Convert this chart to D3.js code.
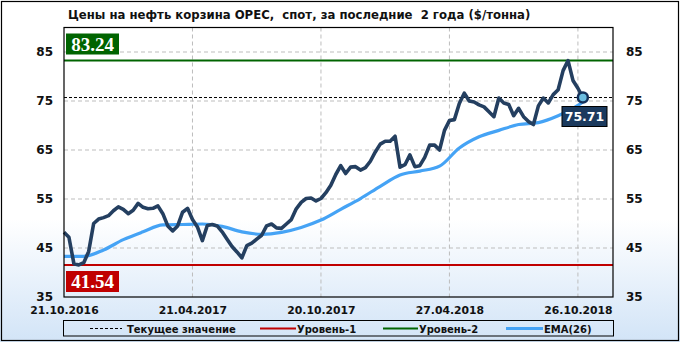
<!DOCTYPE html>
<html><head><meta charset="utf-8">
<script src="https://cdn.jsdelivr.net/npm/d3@7/dist/d3.min.js"></script>
<style>html,body{margin:0;padding:0;background:#fff;}svg{display:block;}</style>
</head><body>
<svg id="chart" width="680" height="342"></svg>
<script>
// ---- data ----
const title = "Цены на нефть корзина OPEC,  спот, за последние  2 года ($/тонна)";
const prices = [48.2,47.2,41.8,41.54,42.0,44.3,50.0,50.9,51.2,51.6,52.6,53.4,52.9,52.0,52.7,54.1,53.3,53.0,53.1,53.6,
  52.0,49.5,48.5,49.5,52.3,53.1,50.8,49.3,46.5,49.6,49.8,49.5,48.3,46.8,45.3,44.2,43.0,45.5,46.0,46.8,
  47.6,49.5,49.9,49.1,49.0,49.9,50.8,53.0,54.3,55.1,55.2,54.6,55.1,56.3,57.8,60.0,61.8,60.2,61.5,61.6,
  60.9,61.4,62.7,64.6,66.2,66.8,66.8,67.8,61.5,62.0,64.0,61.6,61.8,63.5,66.0,66.0,65.0,69.0,71.0,71.2,
  74.5,76.6,75.0,74.8,74.2,73.8,72.8,71.8,75.6,74.6,74.3,72.0,73.5,71.8,70.8,70.2,74.0,75.6,74.6,76.3,
  77.3,81.2,83.24,79.2,77.6,75.71];
const emaIndex = [0,4,8,12,16,20,24,28,32,36,40,44,48,52,56,60,64,68,72,76,80,84,88,92,96,100,104,105];
const emaValues = [43.3,43.3,44.6,46.7,48.3,49.7,49.8,49.9,49.4,48.3,47.8,48.2,49.2,50.7,52.9,55.1,57.6,59.9,60.7,61.7,65.4,67.7,69.0,70.2,70.6,72.0,74.1,74.8];
const level1 = 41.54;
const level2 = 83.24;
const currentValue = 75.71;
const xTickIndex = [0,26,52,78,104];
const xTickLabels = ["21.10.2016","21.04.2017","20.10.2017","27.04.2018","26.10.2018"];
const yTicks = [35,45,55,65,75,85];
const legendLabels = ["Текущее значение","Уровень-1","Уровень-2","EMA(26)"];

// ---- layout ----
const W = 680, H = 342;
const L = 64, R = 613, T = 27.5, B = 297;
const svg = d3.select("#chart");
const font = "'DejaVu Sans', Verdana, sans-serif";

const defs = svg.append("defs");
const grad = defs.append("linearGradient").attr("id","bg").attr("x1",0).attr("y1",0).attr("x2",0).attr("y2",1);
grad.append("stop").attr("offset","0%").attr("stop-color","#ffffff");
grad.append("stop").attr("offset","64%").attr("stop-color","#ffffff");
grad.append("stop").attr("offset","100%").attr("stop-color","#d2e4f7");

svg.append("rect").attr("x",0).attr("y",0).attr("width",W).attr("height",H).attr("fill","url(#bg)");
svg.append("rect").attr("x",1.5).attr("y",1.5).attr("width",W-3).attr("height",H-3)
  .attr("fill","none").attr("stroke","#000").attr("stroke-width",1.2);

const x = d3.scaleLinear().domain([0,111.1]).range([L,R]);
const y = d3.scaleLinear().domain([35,90]).range([B,T]);

// title
svg.append("text").attr("x",68).attr("y",19).attr("font-family",font).attr("font-weight","bold")
  .attr("font-size",11.7).attr("fill","#111").style("white-space","pre").text(title);

// grid
const grid = svg.append("g");
grid.selectAll("line.h").data(yTicks.filter(v=>v>35)).join("line")
  .attr("x1",L).attr("x2",R).attr("y1",d=>y(d)).attr("y2",d=>y(d))
  .attr("stroke","#bdbdbd").attr("stroke-dasharray","4,3").attr("stroke-width",1);
grid.selectAll("line.v").data(xTickIndex.slice(1)).join("line")
  .attr("x1",d=>x(d)).attr("x2",d=>x(d)).attr("y1",T).attr("y2",B)
  .attr("stroke","#bdbdbd").attr("stroke-dasharray","4,3").attr("stroke-width",1);

// axes
const yAxisL = d3.axisLeft(y).tickValues(yTicks).tickSize(0).tickPadding(11);
const gL = svg.append("g").attr("transform",`translate(${L},0)`).call(yAxisL);
const yAxisR = d3.axisRight(y).tickValues(yTicks).tickSize(0).tickPadding(13);
const gR = svg.append("g").attr("transform",`translate(${R},0)`).call(yAxisR);
const xAxis = d3.axisBottom(x).tickValues(xTickIndex).tickFormat((d,i)=>xTickLabels[i]).tickSize(0).tickPadding(9);
const gX = svg.append("g").attr("transform",`translate(0,${B})`).call(xAxis);
[gL,gR,gX].forEach(g=>{
  g.select(".domain").remove();
  g.selectAll("text").attr("font-family",font).attr("font-weight","bold").attr("fill","#111");
});
gL.selectAll("text").attr("font-size",12);
gR.selectAll("text").attr("font-size",12);
gX.selectAll("text").attr("font-size",10.8);

// level lines
svg.append("line").attr("x1",L).attr("x2",R).attr("y1",y(level1)).attr("y2",y(level1))
  .attr("stroke","#c00000").attr("stroke-width",2);
svg.append("line").attr("x1",L).attr("x2",R).attr("y1",y(level2)).attr("y2",y(level2))
  .attr("stroke","#006400").attr("stroke-width",2);
svg.append("line").attr("x1",L).attr("x2",R).attr("y1",y(currentValue)).attr("y2",y(currentValue))
  .attr("stroke","#000").attr("stroke-width",1).attr("stroke-dasharray","3,2");

// EMA
const emaData = emaIndex.map((d,i)=>[d,emaValues[i]]);
svg.append("path").datum(emaData)
  .attr("d",d3.line().x(d=>x(d[0])).y(d=>y(d[1])).curve(d3.curveMonotoneX))
  .attr("fill","none").attr("stroke","#45a3f5").attr("stroke-width",3.2).attr("stroke-linejoin","round");

// price
svg.append("path").datum(prices)
  .attr("d",d3.line().x((d,i)=>x(i)).y(d=>y(d)))
  .attr("fill","none").attr("stroke","#243f60").attr("stroke-width",3.6).attr("stroke-linejoin","round");

// frame
svg.append("rect").attr("x",L).attr("y",T).attr("width",R-L).attr("height",B-T)
  .attr("fill","none").attr("stroke","#000").attr("stroke-width",1.2);

// level labels
function levelLabel(val, yTop, fill){
  svg.append("rect").attr("x",66).attr("y",yTop).attr("width",53).attr("height",21).attr("fill",fill);
  svg.append("text").attr("x",92.5).attr("y",yTop+17).attr("text-anchor","middle")
    .attr("font-family","'Liberation Serif','Times New Roman',serif").attr("font-weight","bold")
    .attr("font-size",19).attr("fill","#fff").text(val.toFixed(2));
}
levelLabel(level2, 33.5, "#006400");
levelLabel(level1, 271, "#c00000");

// current point
const lastI = prices.length-1;
svg.append("circle").attr("cx",x(lastI)).attr("cy",y(prices[lastI])).attr("r",5)
  .attr("fill","#6bbde0").attr("stroke","#13305a").attr("stroke-width",2.5);
svg.append("rect").attr("x",562).attr("y",106.5).attr("width",45).attr("height",20)
  .attr("fill","#1b3a5e").attr("stroke","#000").attr("stroke-width",1);
svg.append("text").attr("x",584.5).attr("y",121).attr("text-anchor","middle")
  .attr("font-family",font).attr("font-weight","bold").attr("font-size",12.5).attr("fill","#fff")
  .text(currentValue.toFixed(2));

// legend
svg.append("rect").attr("x",63.5).attr("y",320.5).attr("width",550).attr("height",15.5)
  .attr("fill","none").attr("stroke","#000").attr("stroke-width",1);
const legItems = [
  {x1:90,x2:122,color:"#000",dash:"3,2",w:1,tx:127},
  {x1:260,x2:296,color:"#c00000",dash:null,w:2,tx:297},
  {x1:383,x2:418,color:"#006400",dash:null,w:2,tx:419},
  {x1:506,x2:543,color:"#45a3f5",dash:null,w:3,tx:544}
];
legItems.forEach((it,i)=>{
  svg.append("line").attr("x1",it.x1).attr("x2",it.x2).attr("y1",328.5).attr("y2",328.5)
    .attr("stroke",it.color).attr("stroke-width",it.w).attr("stroke-dasharray",it.dash);
  svg.append("text").attr("x",it.tx).attr("y",332.5).attr("font-family",font).attr("font-weight","bold")
    .attr("font-size",10).attr("fill","#111").text(legendLabels[i]);
});
</script>
</body></html>
